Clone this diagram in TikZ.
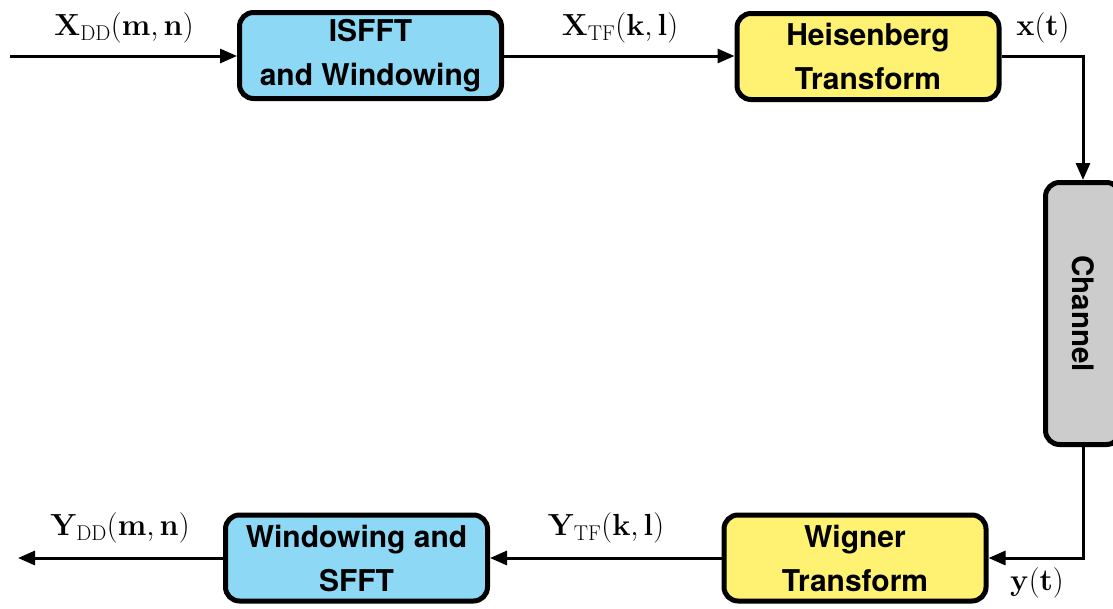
\RequirePackage{fix-cm}
\documentclass[tikz,border=0pt]{standalone}
\usepackage[no-math]{fontspec}
\newfontfamily\hv{TeX Gyre Heros}
\usetikzlibrary{arrows.meta}
\definecolor{boxblue}{RGB}{140,216,245}
\definecolor{boxyellow}{RGB}{255,242,115}
\definecolor{boxgrey}{RGB}{204,204,204}
\begin{document}
\begin{tikzpicture}[x=1pt,y=-1pt,
  blk/.style={draw=black,line width=5pt,rounded corners=14pt,align=center,
    minimum width=262pt,minimum height=86pt,inner sep=0pt,
    font=\hv\bfseries\fontsize{30}{44}\selectfont},
  lab/.style={inner sep=0pt,font=\fontsize{30.5}{36}\selectfont},
  conn/.style={line width=3pt,-{Triangle[length=17pt,width=14pt]}}]
\useasboundingbox (0,0) rectangle (1113,608);
\node[blk,fill=boxblue] (isfft) at (370.5,55.5) {ISFFT\\and Windowing};
\node[blk,fill=boxyellow] (heis) at (868,56.5) {Heisenberg\\Transform};
\node[blk,fill=boxgrey,minimum width=75pt,minimum height=262pt] (chan) at (1083,313.5) {};
\node[rotate=-90,inner sep=0pt,font=\hv\bfseries\fontsize{29.5}{44}\selectfont] (chantext) at (chan.center) {Channel};
\node[blk,fill=boxyellow] (wig) at (855,558) {Wigner\\Transform};
\node[blk,fill=boxblue] (wsfft) at (356.5,558) {Windowing and\\SFFT};
\coordinate (in) at (10,56);
\coordinate (out) at (18,558);
\node[lab] (lxdd) at (124,28) {$\mathbf{X}_{\mathrm{DD}}(\mathbf{m},\mathbf{n})$};
\node[lab] (lxtf) at (620,28) {$\mathbf{X}_{\mathrm{TF}}(\mathbf{k},\mathbf{l})$};
\node[lab] (lxt) at (1043,28) {$\mathbf{x}(\mathbf{t})$};
\node[lab] (lydd) at (120,528) {$\mathbf{Y}_{\mathrm{DD}}(\mathbf{m},\mathbf{n})$};
\node[lab] (lytf) at (606,528) {$\mathbf{Y}_{\mathrm{TF}}(\mathbf{k},\mathbf{l})$};
\node[lab] (lyt) at (1037,583) {$\mathbf{y}(\mathbf{t})$};
\draw[conn] (in) -- (isfft.west |- in);
\draw[conn] (isfft.east |- in) -- (heis.west |- in);
\draw[conn] (heis.east |- in) -| (chan.north);
\draw[conn] (chan.south) |- (wig.east);
\draw[conn] (wig.west) -- (wsfft.east);
\draw[conn] (wsfft.west) -- (out);
\end{tikzpicture}
\end{document}
